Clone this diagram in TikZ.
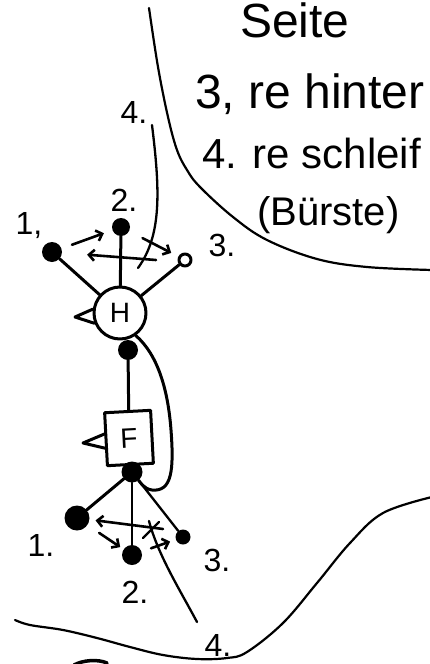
\documentclass[tikz,border=0pt]{standalone}
\usepackage{fontspec}
\setmainfont{Liberation Sans}
\usetikzlibrary{arrows.meta}
\begin{document}
\begin{tikzpicture}[x=1pt,y=-1pt,
  line cap=round, line join=round,
  ln/.style={line width=3pt},
  thinln/.style={line width=2.3pt},
  arr/.style={line width=2.6pt,-{Straight Barb[length=5.5pt,width=11pt]}},
  dot/.style={circle,fill=black,inner sep=0pt},
  ring/.style={circle,draw,fill=white,line width=3pt,inner sep=0pt},
  lbl/.style={font=\fontsize{32}{34}\selectfont, inner sep=0pt},
  big/.style={font=\fontsize{48}{52}\selectfont, inner sep=0pt, anchor=base west},
  bound/.style={line width=2.2pt},
]
\useasboundingbox (0,0) rectangle (430,664);
\clip (0,0) rectangle (430,664);

% boundary curves
\draw[bound] plot[smooth,tension=0.6] coordinates {(149,8) (158,67) (168,117) (177,150) (187,170) (200,187) (233,217) (267,240) (317,259) (367,267) (432,270)};
\draw[bound] plot[smooth,tension=0.6] coordinates {(15,620) (30,625) (63,630) (97,638) (130,647) (163,655) (197,659) (227,658) (247,652) (283,623) (317,583) (350,543) (383,513) (432,497)};
\draw[line width=3.5pt] (74,665) .. controls (83,660) and (98,659) .. (107,663);

% texts
\node[big] (seite) at (240,37) {Seite};
\node[big] (t3) at (195,108) {3, re hinter};
\node[big,font=\fontsize{42}{46}\selectfont] (t4) at (202,168) {4. re schleif};
\node[big,font=\fontsize{40}{44}\selectfont] (t5) at (257,225) {(Bürste)};

% main nodes
\node[circle,draw,line width=3pt,minimum size=52pt,inner sep=0pt,font=\fontsize{28}{30}\selectfont] (H) at (120,313) {H};
\node[draw,line width=3pt,minimum width=46pt,minimum height=53pt,inner sep=0pt,rotate=3,font=\fontsize{28}{30}\selectfont] (F) at (129,438) {F};
\node[dot,minimum size=20pt] (hb) at (128,350) {};
\node[dot,minimum size=21pt] (fb) at (132,472) {};

% upper group
\node[dot,minimum size=20pt] (u1) at (52,252) {};
\node[dot,minimum size=18pt] (u2) at (121,227) {};
\node[ring,minimum size=12pt] (u3) at (185,260) {};
\node[lbl] (tu1) at (29,226) {1,};
\node[lbl] (tu2) at (124,200) {2.};
\node[lbl] (tu3) at (222,245) {3.};
\node[lbl] (tu4) at (134,112) {4.};

% lower group
\node[dot,minimum size=25pt] (l1) at (77,518) {};
\node[dot,minimum size=20pt] (l2) at (132,555) {};
\node[dot,minimum size=15pt] (l3) at (183,537) {};
\node[lbl] (tl1) at (41,545) {1.};
\node[lbl] (tl2) at (135,592) {2.};
\node[lbl] (tl3) at (217,560) {3.};
\node[lbl] (tl4) at (218,645) {4.};

% coordinates
\coordinate (hflag) at (75,317);
\coordinate (fflag) at (83,443);
\coordinate (a4u) at (152,125);
\coordinate (e4u) at (138,268);
\coordinate (s4u) at (156,260);
\coordinate (a4l) at (197,622);
\coordinate (e4l) at (149,521);
\coordinate (s4l) at (163,529);

% connectors
\draw[ln] (u1) -- (H);
\draw[ln] (u2) -- (H);
\draw[ln] (u3) -- (H);
\draw[ln] (hb) -- (F);
\draw[ln] (fb) -- (l1);
\draw[thinln] (fb) -- (l2);
\draw[thinln] (fb) -- (l3);
\draw[ln] (H.172) -- (hflag) -- (H.202);
\draw[ln] (F.168) -- (fflag) -- (F.200);
\draw[ln] (H.-55) .. controls (158,355) and (168,390) .. (171,430)
  .. controls (174,470) and (172,492) .. (152,490)
  .. controls (144,489) and (140,482) .. (fb);

% upper arrows
\draw[arr,shorten <=11pt,shorten >=9pt] (u1) -- (u2);
\draw[arr,shorten <=15pt,shorten >=8pt] (u2) -- (u3);
\draw[arr,shorten >=25pt] (s4u) -- (u1);
\draw[thinln] (a4u) .. controls (160,190) and (162,235) .. (e4u);

% lower arrows
\draw[arr,shorten <=14pt,shorten >=4pt] (l1) -- (l2);
\draw[arr,shorten <=10pt,shorten >=6pt] (l2) -- (l3);
\draw[arr,shorten >=6pt] (s4l) -- (l1);
\draw[thinln] (a4l) .. controls (180,590) and (158,555) .. (e4l);
\draw[thinln] (143,538) -- (159,522);
\end{tikzpicture}
\end{document}
